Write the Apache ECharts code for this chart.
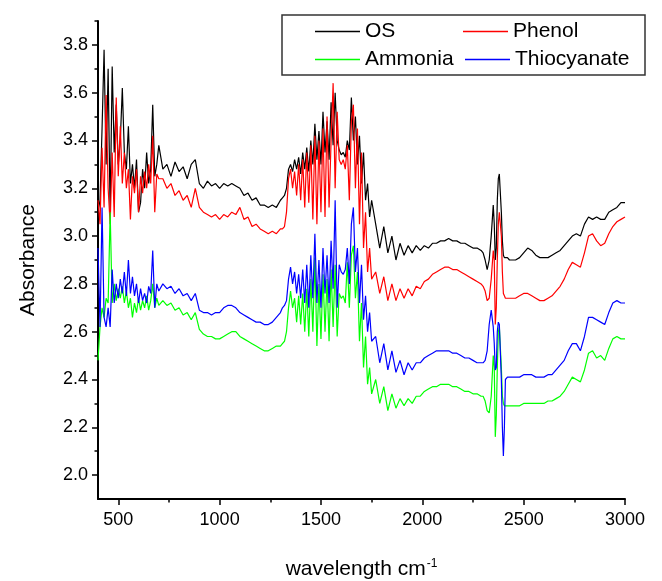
<!DOCTYPE html>
<html>
<head>
<meta charset="utf-8">
<script src="https://cdn.jsdelivr.net/npm/echarts@6/dist/echarts.min.js"></script>
<style>
  html, body { margin: 0; padding: 0; background: #fff; }
  #chart { width: 662px; height: 581px; }
</style>
</head>
<body>
<div id="chart"></div>
<script>
// wavelength (cm-1) sample points, denser where the spectra are noisy
const wavenumbers = [
  400, 410, 420, 430, 440, 450, 460, 470, 480, 490, 500, 510, 520, 530, 540, 550, 560, 570, 580, 590, 600, 610, 620, 630, 640, 650, 660, 670, 680, 690, 700,
  720, 740, 760, 780, 800, 820, 840, 860, 880, 900, 920, 940, 960, 980, 1000, 1020, 1040, 1060, 1080, 1100, 1120, 1140, 1160, 1180, 1200, 1220, 1240, 1260, 1280, 1300,
  1310, 1320, 1330, 1340, 1350, 1360, 1370, 1380, 1390, 1400, 1410, 1420, 1430, 1440, 1450, 1460, 1470, 1480, 1490, 1500,
  1510, 1520, 1530, 1540, 1550, 1560, 1570, 1580, 1590, 1600, 1610, 1620, 1630, 1640, 1650, 1660, 1670, 1680, 1690, 1700, 1710, 1720, 1730, 1740, 1750,
  1770, 1790, 1810, 1830, 1850, 1870, 1890, 1910, 1930, 1950, 1970, 1990, 2010, 2030, 2050, 2070, 2090, 2110, 2130, 2150, 2170, 2190, 2210, 2230, 2250, 2270, 2290,
  2300, 2310, 2320, 2330, 2340, 2350, 2355, 2360, 2365, 2370, 2375, 2380, 2390, 2395, 2400, 2405, 2410, 2420, 2430,
  2440, 2460, 2480, 2500, 2520, 2540, 2560, 2580, 2600, 2620, 2640, 2660, 2680, 2700, 2720, 2740, 2760, 2780, 2800, 2820, 2840, 2860, 2880, 2900, 2920, 2940, 2960, 2980, 3000
];

const os = [
  3.10, 3.15, 3.45, 3.78, 3.30, 3.70, 3.09, 3.71, 3.35, 3.55, 3.30, 3.40, 3.62, 3.35, 3.28, 3.46, 3.22, 3.30, 3.20, 3.32, 3.10, 3.14, 3.28, 3.20, 3.35, 3.22, 3.28, 3.55, 3.25, 3.30, 3.38,
  3.28, 3.30, 3.25, 3.31, 3.27, 3.29, 3.24, 3.30, 3.32, 3.22, 3.20, 3.23, 3.21, 3.22, 3.20, 3.22, 3.21, 3.22, 3.21, 3.20, 3.17, 3.18, 3.15, 3.16, 3.13, 3.13, 3.12, 3.13, 3.12, 3.15,
  3.16, 3.17, 3.20, 3.28, 3.30, 3.27, 3.32, 3.28, 3.33, 3.26, 3.35, 3.28, 3.37, 3.27, 3.40, 3.30, 3.47, 3.32, 3.44, 3.30,
  3.52, 3.35, 3.48, 3.32, 3.56, 3.38, 3.60, 3.40, 3.36, 3.34, 3.35, 3.33, 3.40, 3.36, 3.58, 3.40, 3.50, 3.30, 3.42, 3.22, 3.35, 3.15, 3.22, 3.08, 3.15,
  3.05, 2.95, 3.04, 2.93, 3.00, 2.90, 2.97, 2.92, 2.96, 2.93, 2.96, 2.94, 2.96, 2.95, 2.97, 2.97, 2.98, 2.98, 2.99, 2.98, 2.98, 2.97, 2.97, 2.96, 2.95, 2.95, 2.94,
  2.93, 2.90, 2.86, 2.90, 3.00, 3.13, 3.05, 2.90, 2.95, 3.15, 3.24, 3.26, 3.10, 2.98, 2.92, 2.91, 2.91, 2.91, 2.90,
  2.90, 2.90, 2.91, 2.93, 2.95, 2.94, 2.92, 2.91, 2.91, 2.91, 2.92, 2.93, 2.94, 2.96, 2.98, 3.00, 3.01, 3.00, 3.05, 3.08, 3.07, 3.08, 3.07, 3.07, 3.10, 3.11, 3.12, 3.14, 3.14
];

const phenol = [
  3.15, 3.05, 3.37, 3.12, 3.59, 3.20, 3.05, 3.35, 3.08, 3.58, 3.25, 3.46, 3.22, 3.35, 3.20, 3.28, 3.07, 3.25, 3.18, 3.28, 3.10, 3.25, 3.18, 3.27, 3.20, 3.30, 3.22, 3.42, 3.10, 3.26, 3.24,
  3.24, 3.20, 3.22, 3.17, 3.19, 3.15, 3.17, 3.12, 3.20, 3.12, 3.10, 3.09, 3.08, 3.09, 3.07, 3.09, 3.08, 3.10, 3.09, 3.12, 3.07, 3.08, 3.04, 3.05, 3.03, 3.02, 3.01, 3.02, 3.01, 3.03,
  3.03, 3.04, 3.10, 3.24, 3.28, 3.20, 3.27, 3.17, 3.30, 3.15, 3.32, 3.12, 3.35, 3.14, 3.38, 3.07, 3.42, 3.05, 3.40, 3.10,
  3.45, 3.08, 3.50, 3.12, 3.40, 3.64, 3.20, 3.52, 3.32, 3.30, 3.32, 3.28, 3.38, 3.15, 3.48, 3.55, 3.20, 3.45, 3.05, 3.35, 2.95, 3.10, 2.85, 2.95, 2.82,
  2.85, 2.76, 2.83, 2.73, 2.80, 2.73, 2.78, 2.74, 2.78, 2.75, 2.79, 2.78, 2.81, 2.82, 2.84, 2.85, 2.86, 2.87, 2.87, 2.86, 2.86, 2.85, 2.84, 2.83, 2.82, 2.81, 2.80,
  2.79, 2.77, 2.73, 2.74, 2.82, 2.94, 2.90, 2.63, 2.70, 2.90, 3.05, 3.10, 3.00, 2.85, 2.76, 2.75, 2.74, 2.74, 2.74,
  2.74, 2.74, 2.75, 2.76, 2.76, 2.75, 2.74, 2.73, 2.73, 2.74, 2.75, 2.77, 2.79, 2.82, 2.86, 2.89, 2.88, 2.87, 2.93, 3.00, 3.01, 2.98, 2.96, 2.97, 3.01, 3.04, 3.06, 3.07, 3.08
];

const ammonia = [
  2.48, 2.62, 2.70, 2.66, 2.74, 2.72, 3.10, 2.72, 2.80, 2.73, 2.78, 2.74, 2.79, 2.72, 2.77, 2.70, 2.74, 2.66, 2.72, 2.68, 2.74, 2.69, 2.73, 2.70, 2.75, 2.69, 2.73, 2.80, 2.70, 2.74, 2.71,
  2.73, 2.71, 2.72, 2.69, 2.70, 2.67, 2.68, 2.65, 2.68, 2.61, 2.59, 2.58, 2.58, 2.57, 2.57, 2.58, 2.59, 2.60, 2.60, 2.58, 2.57, 2.56, 2.55, 2.54, 2.53, 2.52, 2.52, 2.53, 2.54, 2.54,
  2.55, 2.56, 2.60, 2.70, 2.77, 2.70, 2.74, 2.64, 2.75, 2.63, 2.76, 2.60, 2.78, 2.58, 2.82, 2.60, 2.91, 2.54, 2.80, 2.57,
  2.84, 2.60, 2.82, 2.56, 2.86, 2.62, 2.88, 2.58, 2.76, 2.74, 2.75, 2.72, 2.89, 2.70, 2.92, 2.96, 2.74, 2.85, 2.56, 2.72, 2.45, 2.58, 2.38, 2.45, 2.34,
  2.40, 2.30, 2.37, 2.27, 2.34, 2.28, 2.32, 2.29, 2.32, 2.30, 2.33, 2.33, 2.35, 2.36, 2.37, 2.37, 2.38, 2.38, 2.38, 2.37, 2.37, 2.36, 2.35, 2.35, 2.34, 2.34, 2.33,
  2.33, 2.31, 2.27, 2.26, 2.33, 2.50, 2.45, 2.16, 2.25, 2.45, 2.60, 2.62, 2.45, 2.33, 2.30, 2.29, 2.29, 2.29, 2.29,
  2.29, 2.29, 2.29, 2.30, 2.30, 2.30, 2.30, 2.30, 2.30, 2.31, 2.31, 2.32, 2.33, 2.35, 2.38, 2.41, 2.40, 2.39, 2.44, 2.51, 2.52, 2.49, 2.50, 2.48, 2.53, 2.57, 2.58, 2.57, 2.57
];

const thiocyanate = [
  2.95, 2.62, 3.12, 2.66, 2.62, 2.70, 2.62, 2.86, 2.72, 2.80, 2.74, 2.82, 2.76, 2.85, 2.75, 2.90, 2.76, 2.83, 2.75, 2.80, 2.72, 2.78, 2.73, 2.76, 2.72, 2.79, 2.76, 2.94, 2.70, 2.80, 2.77,
  2.80, 2.78, 2.79, 2.76, 2.78, 2.75, 2.76, 2.73, 2.76, 2.69, 2.68, 2.68, 2.67, 2.68, 2.68, 2.70, 2.71, 2.71, 2.70, 2.68, 2.67, 2.66, 2.65, 2.64, 2.64, 2.63, 2.63, 2.64, 2.66, 2.68,
  2.70, 2.71, 2.73, 2.82, 2.87, 2.80, 2.85, 2.76, 2.84, 2.74, 2.86, 2.72, 2.88, 2.70, 2.92, 2.74, 3.01, 2.72, 2.90, 2.70,
  2.95, 2.76, 2.92, 2.72, 2.98, 2.78, 3.15, 2.70, 2.88, 2.85, 2.84, 2.86, 2.95, 2.80, 3.05, 3.12, 2.85, 2.95, 2.72, 2.88, 2.65, 2.75, 2.60, 2.68, 2.56,
  2.58, 2.47, 2.55, 2.44, 2.52, 2.43, 2.48, 2.42, 2.47, 2.44, 2.47, 2.47, 2.49, 2.50, 2.51, 2.52, 2.52, 2.52, 2.52, 2.51, 2.51, 2.50, 2.49, 2.49, 2.48, 2.47, 2.47,
  2.47, 2.48, 2.52, 2.63, 2.69, 2.62, 2.55, 2.44, 2.45, 2.60, 2.64, 2.63, 2.40, 2.20, 2.08, 2.20, 2.40, 2.41, 2.41,
  2.41, 2.41, 2.41, 2.42, 2.42, 2.42, 2.41, 2.41, 2.41, 2.42, 2.42, 2.44, 2.46, 2.48, 2.52, 2.55, 2.55, 2.52, 2.58, 2.66, 2.66, 2.65, 2.64, 2.63, 2.68, 2.72, 2.73, 2.72, 2.72
];

const xLabelTicks = [500, 1000, 1500, 2000, 2500, 3000];
const xMinorTicks = [750, 1250, 1750, 2250, 2750];
const yLabelTicks = [2.0, 2.2, 2.4, 2.6, 2.8, 3.0, 3.2, 3.4, 3.6, 3.8];
const yMinorTicks = [2.1, 2.3, 2.5, 2.7, 2.9, 3.1, 3.3, 3.5, 3.7, 3.9];

const seriesNames = ['OS', 'Phenol', 'Ammonia', 'Thiocyanate'];
const seriesColors = ['#000000', '#ff0000', '#00ff00', '#0000ff'];
const seriesValues = [os, phenol, ammonia, thiocyanate];

const FONT = 'Liberation Sans, Arial, sans-serif';

const chart = echarts.init(document.getElementById('chart'), null, { renderer: 'canvas' });

const axisLineStyle = { show: true, lineStyle: { color: '#000', width: 2 } };

// one legend per entry so the two rows line up like the original box
const legendPos = [
  { left: 315, top: 21 },
  { left: 463, top: 21 },
  { left: 315, top: 49 },
  { left: 465, top: 49 }
];

chart.setOption({
  animation: false,
  backgroundColor: '#fff',
  grid: { left: 98, right: 37, top: 21, bottom: 82, containLabel: false, outerBoundsMode: 'none' },
  graphic: [{
    type: 'rect',
    shape: { x: 282, y: 15, width: 363, height: 60 },
    style: { fill: 'none', stroke: '#333', lineWidth: 1.5 },
    z: 10
  }],
  legend: seriesNames.map((name, i) => ({
    data: [name],
    left: legendPos[i].left,
    top: legendPos[i].top,
    padding: 0,
    icon: 'rect',
    itemWidth: 45,
    itemHeight: 1.5,
    selectedMode: false,
    textStyle: { fontSize: 21, fontFamily: FONT, color: '#000' }
  })),
  xAxis: [
    {
      type: 'value',
      min: 400,
      max: 3000,
      position: 'bottom',
      axisLine: axisLineStyle,
      axisTick: { show: true, inside: false, length: 6, customValues: xLabelTicks, lineStyle: { color: '#000', width: 1.5 } },
      axisLabel: {
        customValues: xLabelTicks, margin: 12, fontSize: 18, fontFamily: FONT, color: '#000',
        formatter: v => String(v)
      },
      splitLine: { show: false },
      name: 'wavelength cm{sup|-1}',
      nameLocation: 'middle',
      nameGap: 59,
      nameTextStyle: {
        fontSize: 21, fontFamily: FONT, color: '#000',
        rich: { sup: { fontSize: 12, fontFamily: FONT, color: '#000', verticalAlign: 'top', padding: [0, 0, 10, 1] } }
      }
    },
    {
      type: 'value',
      min: 400,
      max: 3000,
      position: 'bottom',
      axisLine: { show: false },
      axisTick: { show: true, inside: false, length: 3.5, customValues: xMinorTicks, lineStyle: { color: '#000', width: 1.5 } },
      axisLabel: { show: false },
      splitLine: { show: false }
    }
  ],
  yAxis: [
    {
      type: 'value',
      min: 1.9,
      max: 3.9,
      position: 'left',
      axisLine: axisLineStyle,
      axisTick: { show: true, inside: false, length: 6, customValues: yLabelTicks, lineStyle: { color: '#000', width: 1.5 } },
      axisLabel: {
        customValues: yLabelTicks, margin: 10, fontSize: 18, fontFamily: FONT, color: '#000',
        formatter: v => v.toFixed(1)
      },
      splitLine: { show: false },
      name: 'Absorbance',
      nameLocation: 'middle',
      nameGap: 59,
      nameRotate: 90,
      nameTextStyle: { fontSize: 21, fontFamily: FONT, color: '#000' }
    },
    {
      type: 'value',
      min: 1.9,
      max: 3.9,
      position: 'left',
      axisLine: { show: false },
      axisTick: { show: true, inside: false, length: 3.5, customValues: yMinorTicks, lineStyle: { color: '#000', width: 1.5 } },
      axisLabel: { show: false },
      splitLine: { show: false }
    }
  ],
  series: seriesNames.map((name, i) => ({
    name: name,
    type: 'line',
    xAxisIndex: 0,
    yAxisIndex: 0,
    showSymbol: false,
    symbol: 'none',
    color: seriesColors[i],
    lineStyle: { color: seriesColors[i], width: 1.2 },
    data: wavenumbers.map((w, j) => [w, seriesValues[i][j]])
  }))
});
</script>
</body>
</html>
